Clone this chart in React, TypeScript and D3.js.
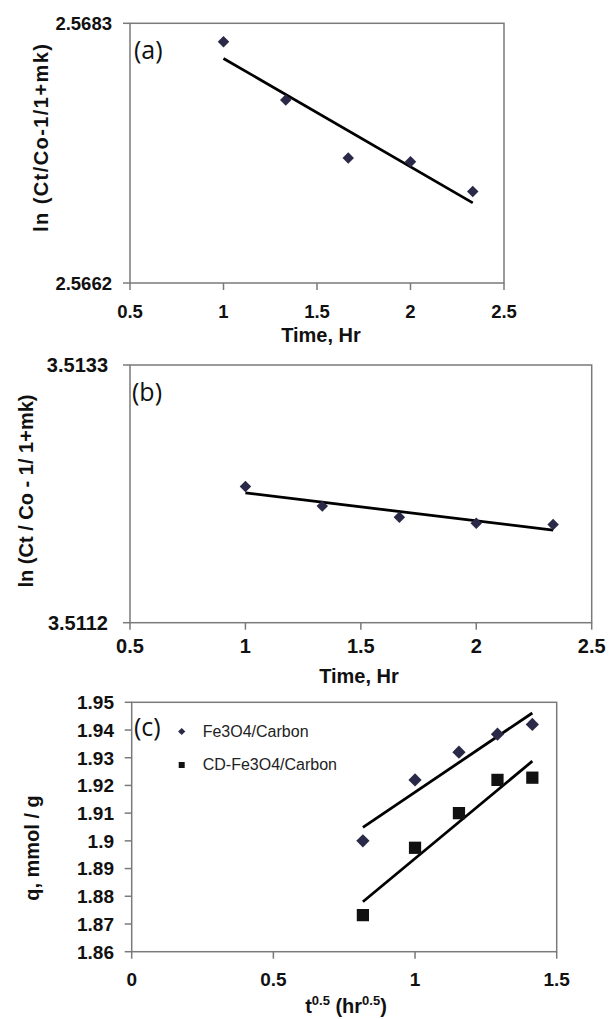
import React from "react";
import * as d3 from "d3";

// ---------- data ----------
const timeHr = [1, 1.333, 1.667, 2, 2.333];
const lnA = [2.56815, 2.56768, 2.56721, 2.56718, 2.56694];
const lnB = [3.51231, 3.51215, 3.51206, 3.51201, 3.512];
const sqrtT = [0.816, 1, 1.155, 1.291, 1.414];
const qFe = [1.9, 1.922, 1.932, 1.9385, 1.942];
const qCD = [1.8732, 1.8975, 1.91, 1.922, 1.9228];

const xTicksAB = [0.5, 1, 1.5, 2, 2.5];
const xTickLabelsAB = ["0.5", "1", "1.5", "2", "2.5"];
const yTicksA = [2.5662, 2.5683];
const yTickLabelsA = ["2.5662", "2.5683"];
const yTicksB = [3.5112, 3.5133];
const yTickLabelsB = ["3.5112", "3.5133"];
const xTicksC = [0, 0.5, 1, 1.5];
const xTickLabelsC = ["0", "0.5", "1", "1.5"];
const yTicksC = [1.86, 1.87, 1.88, 1.89, 1.9, 1.91, 1.92, 1.93, 1.94, 1.95];
const yTickLabelsC = ["1.86", "1.87", "1.88", "1.89", "1.9", "1.91", "1.92", "1.93", "1.94", "1.95"];
const legendC = ["Fe3O4/Carbon", "CD-Fe3O4/Carbon"];

const FONT = "'Liberation Sans', Arial, sans-serif";
const DIAMOND = "#2a2a48";

function fit(xs: number[], ys: number[]) {
  const mx = d3.mean(xs)!;
  const my = d3.mean(ys)!;
  const sxy = d3.sum(xs, (x, i) => (x - mx) * (ys[i] - my));
  const sxx = d3.sum(xs, (x) => (x - mx) * (x - mx));
  const b = sxy / sxx;
  const a = my - b * mx;
  const x0 = d3.min(xs)!;
  const x1 = d3.max(xs)!;
  return [
    [x0, a + b * x0],
    [x1, a + b * x1],
  ] as [number, number][];
}

const diamondPath = (area: number) => d3.symbol(d3.symbolSquare, area)()!;
const squarePath = (area: number) => d3.symbol(d3.symbolSquare, area)()!;

type PanelProps = {
  x: d3.ScaleLinear<number, number>;
  y: d3.ScaleLinear<number, number>;
  xTicks: number[];
  xLabels: string[];
  yTicks: number[];
  yLabels: string[];
  tickFont: number;
  xLabelBaseline: number;
  yLabelRight: number;
};

function Frame(p: PanelProps) {
  const [x0, x1] = p.x.range();
  const [y1, y0] = p.y.range();
  const stroke = "#7a7a7a";
  return (
    <g>
      <rect x={x0} y={y0} width={x1 - x0} height={y1 - y0} fill="none" stroke={stroke} strokeWidth={1.5} />
      {p.xTicks.map((t, i) => (
        <g key={"x" + i}>
          <line x1={p.x(t)} x2={p.x(t)} y1={y1} y2={y1 + 7} stroke={stroke} strokeWidth={1.5} />
          <text
            x={p.x(t)}
            y={p.xLabelBaseline}
            textAnchor="middle"
            fontFamily={FONT}
            fontWeight="bold"
            fontSize={p.tickFont}
            fill="#111"
          >
            {p.xLabels[i]}
          </text>
        </g>
      ))}
      {p.yTicks.map((t, i) => (
        <g key={"y" + i}>
          <line x1={x0 - 7} x2={x0} y1={p.y(t)} y2={p.y(t)} stroke={stroke} strokeWidth={1.5} />
          <text
            x={p.yLabelRight}
            y={p.y(t) + p.tickFont * 0.36}
            textAnchor="end"
            fontFamily={FONT}
            fontWeight="bold"
            fontSize={p.tickFont}
            fill="#111"
          >
            {p.yLabels[i]}
          </text>
        </g>
      ))}
    </g>
  );
}

export default function App() {
  // panel (a)
  const xA = d3.scaleLinear().domain([0.5, 2.5]).range([130, 504]);
  const yA = d3.scaleLinear().domain([2.5662, 2.5683]).range([283, 23.3]);
  // panel (b)
  const xB = d3.scaleLinear().domain([0.5, 2.5]).range([130, 591.7]);
  const yB = d3.scaleLinear().domain([3.5112, 3.5133]).range([622.7, 365]);
  // panel (c)
  const xC = d3.scaleLinear().domain([0, 1.5]).range([131.7, 556.7]);
  const yC = d3.scaleLinear().domain([1.86, 1.95]).range([951.7, 702.3]);

  const lineA = d3.line<[number, number]>().x((d) => xA(d[0])).y((d) => yA(d[1]));
  const lineB = d3.line<[number, number]>().x((d) => xB(d[0])).y((d) => yB(d[1]));
  const lineC = d3.line<[number, number]>().x((d) => xC(d[0])).y((d) => yC(d[1]));

  return (
    <svg
      width={610}
      height={1019}
      style={{ position: "absolute", left: 0, top: 0, background: "#fff" }}
    >
      <rect x={0} y={0} width={610} height={1019} fill="#fff" />

      {/* ---------- (a) ---------- */}
      <Frame
        x={xA}
        y={yA}
        xTicks={xTicksAB}
        xLabels={xTickLabelsAB}
        yTicks={yTicksA}
        yLabels={yTickLabelsA}
        tickFont={18.5}
        xLabelBaseline={318}
        yLabelRight={112}
      />
      <path d={lineA(fit(timeHr, lnA))!} stroke="#000" strokeWidth={2.8} fill="none" />
      {timeHr.map((t, i) => (
        <path
          key={i}
          d={diamondPath(66)}
          transform={`translate(${xA(t)},${yA(lnA[i])}) rotate(45)`}
          fill={DIAMOND}
        />
      ))}
      <text x={134} y={59} fontFamily="'Open Sans', sans-serif" fontSize={25} fill="#111">
        (a)
      </text>
      <text
        transform="translate(48,138) rotate(-90)"
        textAnchor="middle"
        fontFamily={FONT}
        fontWeight="bold"
        fontSize={20}
        textLength={188}
        lengthAdjust="spacing"
        fill="#111"
      >
        ln (Ct/Co-1/1+mk)
      </text>
      <text x={321} y={342} textAnchor="middle" fontFamily={FONT} fontWeight="bold" fontSize={20} fill="#111">
        Time, Hr
      </text>

      {/* ---------- (b) ---------- */}
      <Frame
        x={xB}
        y={yB}
        xTicks={xTicksAB}
        xLabels={xTickLabelsAB}
        yTicks={yTicksB}
        yLabels={yTickLabelsB}
        tickFont={20}
        xLabelBaseline={653}
        yLabelRight={108}
      />
      <path d={lineB(fit(timeHr, lnB))!} stroke="#000" strokeWidth={2.8} fill="none" />
      {timeHr.map((t, i) => (
        <path
          key={i}
          d={diamondPath(66)}
          transform={`translate(${xB(t)},${yB(lnB[i])}) rotate(45)`}
          fill={DIAMOND}
        />
      ))}
      <text x={132} y={401} fontFamily="'Open Sans', sans-serif" fontSize={25} fill="#111">
        (b)
      </text>
      <text
        transform="translate(33,491) rotate(-90)"
        textAnchor="middle"
        fontFamily={FONT}
        fontWeight="bold"
        fontSize={20}
        textLength={193}
        lengthAdjust="spacing"
        fill="#111"
      >
        ln (Ct / Co - 1/ 1+mk)
      </text>
      <text x={359} y={683} textAnchor="middle" fontFamily={FONT} fontWeight="bold" fontSize={20} fill="#111">
        Time, Hr
      </text>

      {/* ---------- (c) ---------- */}
      <Frame
        x={xC}
        y={yC}
        xTicks={xTicksC}
        xLabels={xTickLabelsC}
        yTicks={yTicksC}
        yLabels={yTickLabelsC}
        tickFont={19}
        xLabelBaseline={986}
        yLabelRight={114}
      />
      <path d={lineC(fit(sqrtT, qFe))!} stroke="#000" strokeWidth={2.8} fill="none" />
      <path d={lineC(fit(sqrtT, qCD))!} stroke="#000" strokeWidth={2.8} fill="none" />
      {sqrtT.map((t, i) => (
        <path
          key={"fe" + i}
          d={diamondPath(88)}
          transform={`translate(${xC(t)},${yC(qFe[i])}) rotate(45)`}
          fill={DIAMOND}
        />
      ))}
      {sqrtT.map((t, i) => (
        <path
          key={"cd" + i}
          d={squarePath(150)}
          transform={`translate(${xC(t)},${yC(qCD[i])})`}
          fill="#111"
        />
      ))}
      <text x={134} y={736} fontFamily="'Open Sans', sans-serif" fontSize={25} fill="#111">
        (c)
      </text>
      {/* legend */}
      <path d={diamondPath(26)} transform="translate(181.7,731.5) rotate(45)" fill={DIAMOND} />
      <text x={202.7} y={737} fontFamily={FONT} fontSize={16} fill="#222">
        {legendC[0]}
      </text>
      <path d={squarePath(36)} transform="translate(181.7,765)" fill="#111" />
      <text x={202.7} y={770} fontFamily={FONT} fontSize={16} fill="#222">
        {legendC[1]}
      </text>
      <text
        transform="translate(39,848) rotate(-90)"
        textAnchor="middle"
        fontFamily={FONT}
        fontWeight="bold"
        fontSize={20}
        fill="#111"
      >
        q, mmol / g
      </text>
      <text x={346} y={1013} textAnchor="middle" fontFamily={FONT} fontWeight="bold" fontSize={20} fill="#111">
        t
        <tspan fontSize={13} dy={-8}>0.5</tspan>
        <tspan dy={8}> (hr</tspan>
        <tspan fontSize={13} dy={-8}>0.5</tspan>
        <tspan dy={8}>)</tspan>
      </text>
    </svg>
  );
}
